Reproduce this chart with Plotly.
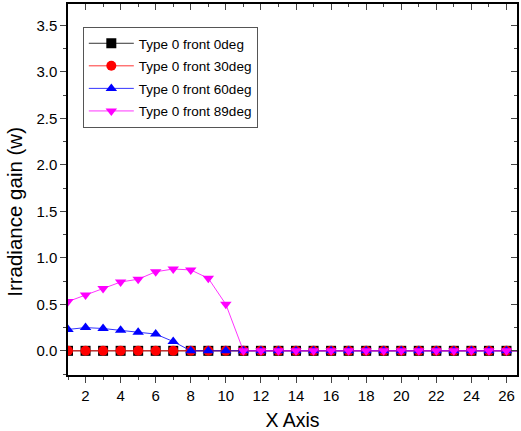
import plotly.graph_objects as go

x = list(range(1, 28))
front_0 = [0.0] * 27
front_30 = [0.0] * 27
front_60 = [0.23, 0.25, 0.24, 0.22, 0.20, 0.18, 0.10] + [0.0] * 20
front_89 = [0.53, 0.60, 0.67, 0.74, 0.77, 0.85, 0.88, 0.87, 0.78, 0.50] + [0.0] * 17

names = ["Type 0 front 0deg", "Type 0 front 30deg", "Type 0 front 60deg", "Type 0 front 89deg"]
series = [front_0, front_30, front_60, front_89]
colors = ["#000000", "#ff0000", "#0000ff", "#ff00ff"]
symbols = ["square", "circle", "triangle-up", "triangle-down"]

fig = go.Figure()
for i, (n, s, c, m) in enumerate(zip(names, series, colors, symbols)):
    fig.add_trace(go.Scatter(x=x, y=s, name=n, mode="lines+markers", legendgroup=f"g{i}",
                             line=dict(color=c, width=0.8),
                             marker=dict(symbol=m, size=10, color=c),
                             cliponaxis=True))

font = "Liberation Sans, Arial, sans-serif"
xr = [1, 26.6]
yr = [-0.26, 3.73]
fig.update_layout(
    width=521, height=431,
    margin=dict(l=68, r=4, t=4, b=56),
    paper_bgcolor="white", plot_bgcolor="white",
    font=dict(family=font, color="#000000", size=15),
    showlegend=True,
    legend=dict(x=0.033, y=0.938, xanchor="left", yanchor="top",
                bordercolor="#555555", borderwidth=1, bgcolor="white", itemwidth=45,
                font=dict(size=13.5), tracegroupgap=2),
    xaxis=dict(range=xr, tickvals=list(range(2, 27, 2)), ticks="outside", automargin=False,
               ticklen=6, tickwidth=1.3, showline=True, linecolor="black", linewidth=1.5,
               showgrid=False, zeroline=False,
               minor=dict(tickvals=list(range(1, 28, 2)), ticks="outside", ticklen=3.5, tickwidth=1.3),
               title=dict(text="X Axis", font=dict(size=19.5), standoff=21),
               tickfont=dict(size=15)),
    yaxis=dict(range=yr, tickvals=[0, 0.5, 1, 1.5, 2, 2.5, 3, 3.5],
               ticktext=["0.0", "0.5", "1.0", "1.5", "2.0", "2.5", "3.0", "3.5"], automargin=False,
               ticks="outside", ticklen=6, tickwidth=1.3, showline=True, linecolor="black",
               linewidth=1.5, showgrid=False, zeroline=False,
               minor=dict(dtick=0.25, tick0=0, ticks="outside", ticklen=3.5, tickwidth=1.3),
               tickfont=dict(size=15)),
    xaxis2=dict(overlaying="x", side="top", matches="x", range=xr,
                tickvals=list(range(2, 27, 2)), ticks="inside", ticklen=6, tickwidth=1.3,
                showticklabels=False, showline=True, linecolor="black", linewidth=1.5,
                showgrid=False, zeroline=False,
                minor=dict(tickvals=list(range(1, 28, 2)), ticks="inside", ticklen=3.5, tickwidth=1.3)),
    yaxis2=dict(overlaying="y", side="right", matches="y", range=yr,
                tickvals=[0, 0.5, 1, 1.5, 2, 2.5, 3, 3.5], ticks="inside", ticklen=6, tickwidth=1.3,
                showticklabels=False, showline=True, linecolor="black", linewidth=1.5,
                showgrid=False, zeroline=False,
                minor=dict(dtick=0.25, tick0=0, ticks="inside", ticklen=3.5, tickwidth=1.3)),
    annotations=[dict(text="Irradiance gain (w)", textangle=-90, xref="paper", yref="paper",
                      x=-0.118, y=0.44, xanchor="center", yanchor="middle", showarrow=False,
                      font=dict(size=20.5))],
)
fig.add_trace(go.Scatter(x=[None], y=[None], xaxis="x2", yaxis="y2", showlegend=False, hoverinfo="skip"))

fig.write_html("out.html")
